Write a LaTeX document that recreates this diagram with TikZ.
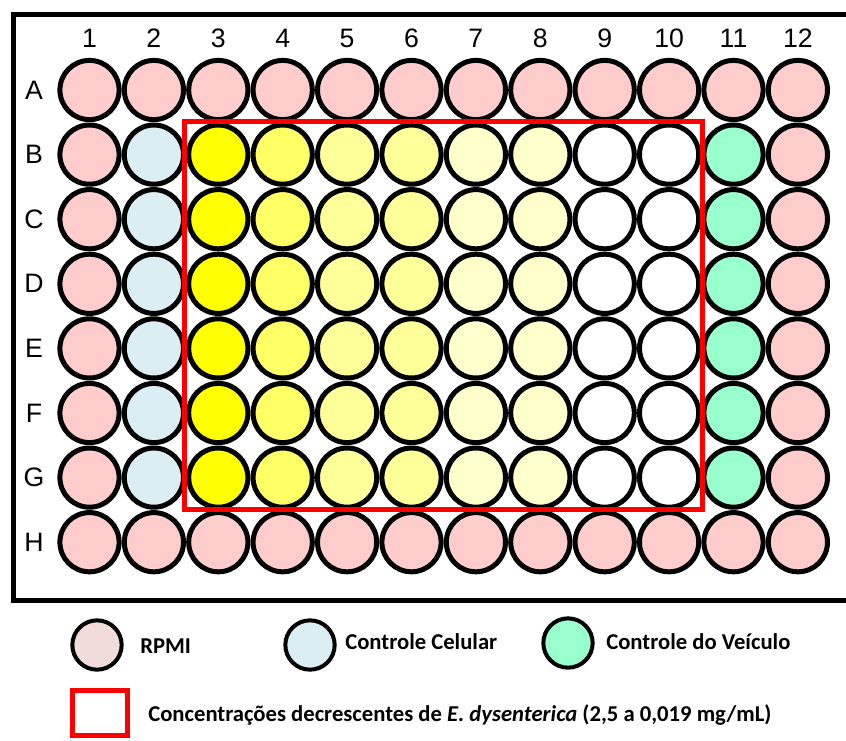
\documentclass[tikz,border=0pt]{standalone}
\usepackage{fontspec}
\setmainfont{Liberation Sans}
\newfontfamily\legfont{Carlito}
\begin{document}
\begin{tikzpicture}[x=0.75pt,y=-0.75pt,
  well/.style={circle,draw=black,line width=3.75pt,minimum size=44.4pt,inner sep=0pt},
  keywell/.style={circle,draw=black,line width=3pt,minimum size=37pt,inner sep=0pt},
  lbl/.style={font=\fontsize{20}{23}\selectfont,inner sep=0pt},
  legtext/.style={font=\legfont\bfseries\fontsize{17}{20}\selectfont,anchor=west,inner sep=0pt}]
\definecolor{rpmi}{HTML}{FFCCCC}
\definecolor{rpmikey}{HTML}{F2DCDB}
\definecolor{cell}{HTML}{DAEEF3}
\definecolor{veh}{HTML}{99FFCC}
\definecolor{cA}{HTML}{FFFF00}
\definecolor{cB}{HTML}{FFFF66}
\definecolor{cC}{HTML}{FFFF99}
\definecolor{cD}{HTML}{FFFF99}
\definecolor{cE}{HTML}{FFFFCC}
\definecolor{cF}{HTML}{FFFFCC}
\definecolor{cG}{HTML}{FFFFFF}
\definecolor{cH}{HTML}{FFFFFF}
\useasboundingbox (0,0) rectangle (846,740);
\clip (0,0) rectangle (846,740);
% plate frame (right edge runs off the page)
\draw[line width=3.75pt] (870,14) -- (13,14) -- (13,600) -- (870,600);
% column and row headings
\foreach \c in {1,...,12}
  \node[lbl] (col\c) at ({89.5+64.4*(\c-1)},38) {\c};
\foreach \r [count=\i] in {A,B,C,D,E,F,G,H}
  \node[lbl] (row\r) at (34,{90+64.6*(\i-1)}) {\r};
% wells
\foreach \r [count=\i] in {A,B,C,D,E,F,G,H}{
  \foreach \c in {1,...,12}{
    \def\fc{rpmi}
    \ifnum\i>1\ifnum\i<8
      \ifnum\c=2\def\fc{cell}\fi
      \ifnum\c=11\def\fc{veh}\fi
      \ifnum\c=3\def\fc{cA}\fi
      \ifnum\c=4\def\fc{cB}\fi
      \ifnum\c=5\def\fc{cC}\fi
      \ifnum\c=6\def\fc{cD}\fi
      \ifnum\c=7\def\fc{cE}\fi
      \ifnum\c=8\def\fc{cF}\fi
      \ifnum\c=9\def\fc{cG}\fi
      \ifnum\c=10\def\fc{cH}\fi
    \fi\fi
    \node[well,fill=\fc] (w\r\c) at ({89.5+64.4*(\c-1)},{90+64.6*(\i-1)}) {};
  }
}
% extract dilution region
\draw[red,line width=3.75pt] (184.5,121.5) rectangle (702,509.5);
% legend
\node[keywell,fill=rpmikey] (kr) at (97,645) {};
\node[legtext] (tr) at (140,646) {RPMI};
\node[keywell,fill=cell] (kc) at (310,645) {};
\node[legtext] (tc) at (345,642) {Controle Celular};
\node[keywell,fill=veh] (kv) at (568,643) {};
\node[legtext] (tv) at (606,642) {Controle do Veículo};
\draw[red,line width=3.75pt] (72,690) rectangle (127,735);
\node[legtext] (tx) at (148,715) {Concentrações decrescentes de \textit{E. dysenterica} (2,5 a 0,019 mg/mL)};
\end{tikzpicture}
\end{document}
